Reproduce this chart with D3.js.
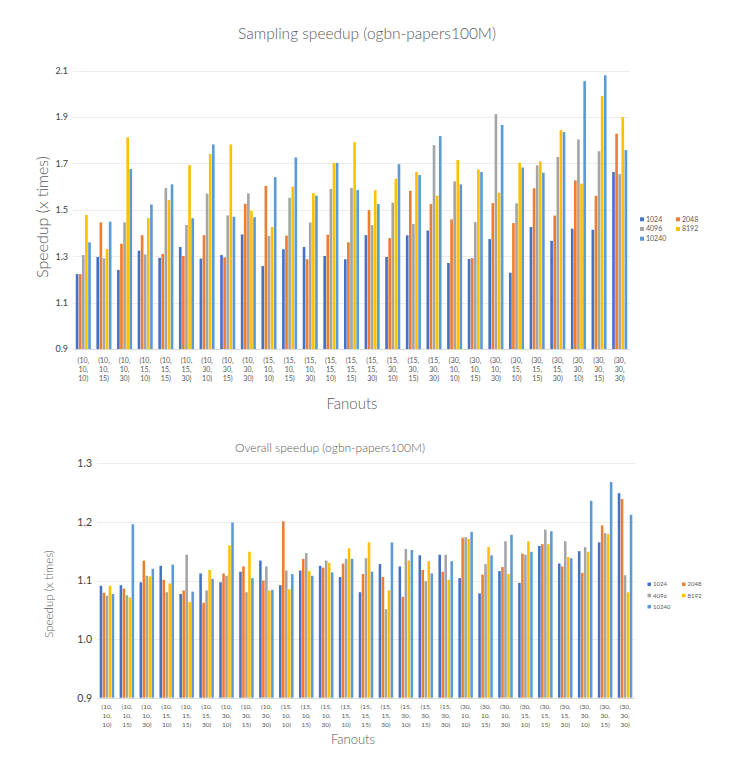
<!DOCTYPE html>
<html lang="en">
<head>
    <meta charset="UTF-8">
    <title>ogbn-papers100M speedup</title>
    <script src="https://cdn.jsdelivr.net/npm/d3@7"></script>
    <style>
        body {
            margin: 0;
            background: #fff;
        }

        svg text {
            font-family: Lato, "Open Sans", sans-serif;
        }

        .grid line {
            stroke: #ececec;
            stroke-width: 1px;
        }

        .baseline {
            stroke: #d9d9d9;
            stroke-width: 1px;
        }

        .title {
            font-weight: 300;
        }
    </style>
</head>
<body>
<svg id="chart" width="733" height="762"></svg>

<script>
    var fanouts = [
        '(10, 10, 10)', '(10, 10, 15)', '(10, 10, 30)', '(10, 15, 10)', '(10, 15, 15)', '(10, 15, 30)',
        '(10, 30, 10)', '(10, 30, 15)', '(10, 30, 30)', '(15, 10, 10)', '(15, 10, 15)', '(15, 10, 30)',
        '(15, 15, 10)', '(15, 15, 15)', '(15, 15, 30)', '(15, 30, 10)', '(15, 30, 15)', '(15, 30, 30)',
        '(30, 10, 10)', '(30, 10, 15)', '(30, 10, 30)', '(30, 15, 10)', '(30, 15, 15)', '(30, 15, 30)',
        '(30, 30, 10)', '(30, 30, 15)', '(30, 30, 30)'
    ];

    var batchSizes = ['1024', '2048', '4096', '8192', '10240'];
    var colors = ['#4472c4', '#ed7d31', '#a5a5a5', '#ffc000', '#5b9bd5'];

    // sampling speedup, one list per batch size
    var sampling1024 = [1.223, 1.297, 1.241, 1.324, 1.293, 1.340, 1.290, 1.305, 1.394, 1.258, 1.330, 1.340, 1.301, 1.287,
        1.391, 1.297, 1.390, 1.411, 1.271, 1.288, 1.374, 1.229, 1.426, 1.366, 1.419, 1.414, 1.663];
    var sampling2048 = [1.223, 1.446, 1.354, 1.391, 1.310, 1.301, 1.391, 1.295, 1.526, 1.603, 1.389, 1.287, 1.393, 1.360,
        1.499, 1.378, 1.582, 1.525, 1.459, 1.292, 1.529, 1.443, 1.593, 1.475, 1.627, 1.561, 1.828];
    var sampling4096 = [1.305, 1.291, 1.446, 1.308, 1.594, 1.435, 1.570, 1.476, 1.571, 1.387, 1.552, 1.446, 1.590, 1.594,
        1.434, 1.531, 1.439, 1.779, 1.623, 1.447, 1.913, 1.528, 1.692, 1.728, 1.804, 1.753, 1.654];
    var sampling8192 = [1.478, 1.331, 1.812, 1.464, 1.542, 1.693, 1.741, 1.782, 1.496, 1.426, 1.600, 1.572, 1.702, 1.792,
        1.585, 1.634, 1.663, 1.561, 1.715, 1.674, 1.574, 1.703, 1.709, 1.844, 1.613, 1.991, 1.900];
    var sampling10240 = [1.360, 1.449, 1.676, 1.523, 1.610, 1.464, 1.782, 1.470, 1.468, 1.641, 1.726, 1.561, 1.702, 1.585,
        1.525, 1.697, 1.650, 1.818, 1.610, 1.663, 1.866, 1.683, 1.660, 1.835, 2.055, 2.080, 1.758];

    // overall speedup
    var overall1024 = [1.091, 1.092, 1.097, 1.125, 1.077, 1.112, 1.097, 1.115, 1.134, 1.092, 1.117, 1.125, 1.106, 1.080,
        1.128, 1.124, 1.143, 1.144, 1.104, 1.078, 1.116, 1.096, 1.159, 1.129, 1.150, 1.165, 1.249];
    var overall2048 = [1.079, 1.086, 1.134, 1.101, 1.083, 1.062, 1.112, 1.124, 1.100, 1.201, 1.137, 1.122, 1.129, 1.111,
        1.106, 1.072, 1.118, 1.115, 1.173, 1.110, 1.123, 1.146, 1.162, 1.124, 1.113, 1.194, 1.239];
    var overall4096 = [1.074, 1.075, 1.108, 1.080, 1.144, 1.083, 1.108, 1.080, 1.124, 1.117, 1.147, 1.134, 1.137, 1.138,
        1.051, 1.154, 1.099, 1.144, 1.174, 1.128, 1.167, 1.144, 1.187, 1.167, 1.157, 1.181, 1.109];
    var overall8192 = [1.091, 1.071, 1.107, 1.095, 1.063, 1.118, 1.160, 1.149, 1.083, 1.085, 1.116, 1.130, 1.155, 1.165,
        1.083, 1.134, 1.133, 1.101, 1.171, 1.157, 1.111, 1.167, 1.162, 1.140, 1.149, 1.179, 1.080];
    var overall10240 = [1.077, 1.196, 1.120, 1.127, 1.081, 1.103, 1.199, 1.104, 1.084, 1.111, 1.108, 1.114, 1.137, 1.115,
        1.165, 1.152, 1.112, 1.133, 1.183, 1.143, 1.178, 1.149, 1.184, 1.138, 1.236, 1.268, 1.212];

    var samplingTicks = [0.9, 1.1, 1.3, 1.5, 1.7, 1.9, 2.1];
    var overallTicks = [0.9, 1.0, 1.1, 1.2, 1.3];

    var svg = d3.select('#chart');

    function draw_panel(cfg) {
        var series = cfg.series;
        var g = svg.append('g');

        var x = d3.scaleBand()
            .domain(fanouts)
            .range([cfg.left, cfg.right])
            .paddingInner(0.27)
            .paddingOuter(0.135);
        var xs = d3.scaleBand()
            .domain(batchSizes)
            .range([0, x.bandwidth()])
            .paddingInner(0.15);
        var y = d3.scaleLinear()
            .domain([cfg.ticks[0], cfg.ticks[cfg.ticks.length - 1]])
            .range([cfg.bottom, cfg.top]);

        // gridlines
        g.append('g')
            .attr('class', 'grid')
            .selectAll('line')
            .data(cfg.ticks.slice(1))
            .enter()
            .append('line')
            .attr('x1', cfg.left)
            .attr('x2', cfg.right)
            .attr('y1', d => Math.round(y(d)) + 0.5)
            .attr('y2', d => Math.round(y(d)) + 0.5);

        // tick labels
        var yAxis = g.append('g')
            .attr('transform', 'translate(' + cfg.left + ',0)')
            .call(d3.axisLeft(y).tickValues(cfg.ticks).tickFormat(d3.format('.1f')).tickSize(0).tickPadding(cfg.tickPad));
        yAxis.select('.domain').remove();
        yAxis.selectAll('text')
            .style('font-family', 'Lato, "Open Sans", sans-serif')
            .style('font-size', cfg.tickFont + 'px')
            .attr('fill', '#404040');

        // bars
        var groups = g.append('g')
            .selectAll('g')
            .data(fanouts)
            .enter()
            .append('g')
            .attr('transform', d => 'translate(' + x(d) + ',0)');

        groups.selectAll('rect')
            .data((d, i) => batchSizes.map((b, j) => ({key: b, value: series[j][i], color: colors[j]})))
            .enter()
            .append('rect')
            .attr('x', d => xs(d.key))
            .attr('width', xs.bandwidth())
            .attr('y', d => y(d.value))
            .attr('height', d => y(cfg.ticks[0]) - y(d.value))
            .attr('fill', d => d.color);

        // baseline
        g.append('line')
            .attr('class', 'baseline')
            .attr('x1', cfg.left)
            .attr('x2', cfg.right)
            .attr('y1', Math.round(cfg.bottom) + 0.5)
            .attr('y2', Math.round(cfg.bottom) + 0.5);

        // category labels, three lines each
        var lab = g.append('g')
            .selectAll('text')
            .data(fanouts)
            .enter()
            .append('text')
            .attr('text-anchor', 'middle')
            .attr('fill', '#595959')
            .style('font-size', cfg.catFont + 'px');
        lab.each(function (d) {
            var parts = d.split(' ');
            var cx = x(d) + x.bandwidth() / 2;
            d3.select(this).selectAll('tspan')
                .data(parts)
                .enter()
                .append('tspan')
                .attr('x', cx)
                .attr('y', (p, k) => cfg.catY + k * cfg.catStep)
                .text(p => p);
        });

        // titles
        g.append('text')
            .attr('class', 'title')
            .attr('x', cfg.titleX)
            .attr('y', cfg.titleY)
            .attr('text-anchor', 'middle')
            .attr('fill', '#595959')
            .style('font-size', cfg.titleFont + 'px')
            .text(cfg.title);

        g.append('text')
            .attr('class', 'title')
            .attr('x', cfg.xTitleX)
            .attr('y', cfg.xTitleY)
            .attr('text-anchor', 'middle')
            .attr('fill', '#595959')
            .style('font-size', cfg.xTitleFont + 'px')
            .text('Fanouts');

        g.append('text')
            .attr('class', 'title')
            .attr('transform', 'translate(' + cfg.yTitleX + ',' + cfg.yTitleY + ') rotate(-90)')
            .attr('text-anchor', 'middle')
            .attr('fill', '#595959')
            .style('font-size', cfg.yTitleFont + 'px')
            .text('Speedup (x times)');

        // legend
        var leg = g.append('g')
            .selectAll('g')
            .data(batchSizes)
            .enter()
            .append('g')
            .attr('transform', (d, i) => 'translate(' + (cfg.legX + (i % 2) * cfg.legColW) + ',' + (cfg.legY + Math.floor(i / 2) * cfg.legRowH) + ')');
        leg.append('rect')
            .attr('x', 0)
            .attr('y', -cfg.legBox / 2)
            .attr('width', cfg.legBox)
            .attr('height', cfg.legBox)
            .attr('fill', (d, i) => colors[i]);
        leg.append('text')
            .attr('x', cfg.legBox + 2)
            .attr('dy', '0.35em')
            .attr('fill', '#595959')
            .style('font-size', cfg.legFont + 'px')
            .text(d => d);
    }

    draw_panel({
        series: [sampling1024, sampling2048, sampling4096, sampling8192, sampling10240],
        ticks: samplingTicks,
        left: 73, right: 630, top: 70.7, bottom: 349,
        tickPad: 5, tickFont: 9,
        catY: 363, catStep: 9, catFont: 7,
        title: 'Sampling speedup (ogbn-papers100M)', titleX: 367, titleY: 39, titleFont: 15.5,
        xTitleX: 352, xTitleY: 409, xTitleFont: 15,
        yTitleX: 48, yTitleY: 217, yTitleFont: 16,
        legX: 640, legY: 219.3, legColW: 36, legRowH: 9.7, legBox: 4, legFont: 7
    });

    draw_panel({
        series: [overall1024, overall2048, overall4096, overall8192, overall10240],
        ticks: overallTicks,
        left: 97, right: 635, top: 463.3, bottom: 697.7,
        tickPad: 5, tickFont: 10.5,
        catY: 709, catStep: 9.2, catFont: 6.5,
        title: 'Overall speedup (ogbn-papers100M)', titleX: 330, titleY: 452, titleFont: 12,
        xTitleX: 353, xTitleY: 744, xTitleFont: 13,
        yTitleX: 53, yTitleY: 594, yTitleFont: 11.5,
        legX: 647.5, legY: 584.3, legColW: 34.5, legRowH: 11.2, legBox: 3.5, legFont: 6
    });
</script>
</body>
</html>
